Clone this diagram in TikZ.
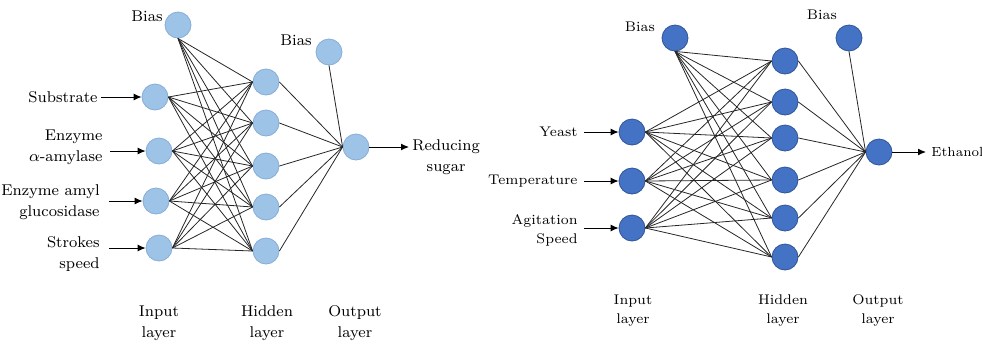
\documentclass[tikz,border=0pt]{standalone}
\usepackage{tikz}
\usetikzlibrary{arrows.meta,positioning}

\definecolor{paleneuron}{HTML}{9DC3E6}
\definecolor{paleedge}{HTML}{86ADD8}
\definecolor{deepneuron}{HTML}{4472C4}
\definecolor{deepedge}{HTML}{2F5597}

\begin{document}
\begin{tikzpicture}[x=0.5pt, y=-0.5pt,
        pale/.style={circle, fill=paleneuron, draw=paleedge, minimum size=13pt, inner sep=0pt},
        deep/.style={circle, fill=deepneuron, draw=deepedge, minimum size=13pt, inner sep=0pt},
        link/.style={black!85, line width=0.4pt},
        feed/.style={-{Latex[length=4pt, width=3.5pt]}, line width=0.5pt},
        lbl/.style={font=\fontsize{7.8}{10.5}\selectfont, inner sep=1.5pt},
        rlbl/.style={font=\fontsize{7}{9.5}\selectfont, inner sep=1.5pt}]
        \useasboundingbox (0, 0) rectangle (982, 344);

        % left network
        \node[pale] (lb) at (178, 25) {};
        \node[pale] (li1) at (155, 97) {};
        \node[pale] (li2) at (159, 151) {};
        \node[pale] (li3) at (156, 201) {};
        \node[pale] (li4) at (159, 248) {};
        \foreach \y [count=\j] in {82, 123, 166, 207, 251}
                \node[pale] (lh\j) at (266, \y) {};
        \node[pale] (lob) at (329, 52) {};
        \node[pale] (lo) at (356, 147) {};

        \foreach \j in {1,...,5} {
                \draw[link] (lb.south) -- (lh\j.west);
                \foreach \i in {1,...,4}
                        \draw[link] (li\i.east) -- (lh\j.west);
                \draw[link] (lh\j.east) -- (lo.west);
        }
        \draw[link] (lob.south) -- (lo.west);

        \node[lbl] (lbt) at (147, 16) {Bias};
        \node[lbl] (lobt) at (296, 40) {Bias};
        \node[lbl, anchor=east] (lt1) at (101, 97) {Substrate};
        \node[lbl, anchor=east, align=right] (lt2) at (106, 147) {Enzyme\\$\alpha$-amylase};
        \node[lbl, anchor=east, align=right] (lt3) at (103, 202) {Enzyme amyl\\glucosidase};
        \node[lbl, anchor=east, align=right] (lt4) at (103, 254) {Strokes\\speed};
        \node[lbl, anchor=west, align=center] (lout) at (409, 157) {Reducing\\sugar};

        \draw[feed] (lt1.east) -- (li1);
        \draw[feed] (li2 -| lt2.east) ++(4, 0) -- (li2);
        \draw[feed] (li3 -| lt3.east) ++(6, 0) -- (li3);
        \draw[feed] (li4 -| lt4.east) ++(6, 0) -- (li4);
        \draw[feed] (lo) -- (lo -| lout.west);

        \node[lbl, align=center] (lin) at (159, 323) {Input\\layer};
        \node[lbl, align=center] (lhid) at (267, 323) {Hidden\\layer};
        \node[lbl, align=center] (lop) at (355, 323) {Output\\layer};

        % right network
        \node[deep] (rb) at (675, 38) {};
        \node[deep] (ri1) at (632, 132) {};
        \node[deep] (ri2) at (632, 181) {};
        \node[deep] (ri3) at (632, 228) {};
        \foreach \y [count=\j] in {61, 102, 138, 180, 218, 257}
                \node[deep] (rh\j) at (785, \y) {};
        \node[deep] (rob) at (849, 38) {};
        \node[deep] (ro) at (879, 152) {};

        \foreach \j in {1,...,6} {
                \draw[link] (rb.south) -- (rh\j.west);
                \foreach \i in {1,...,3}
                        \draw[link] (ri\i.east) -- (rh\j.west);
                \draw[link] (rh\j.east) -- (ro.west);
        }
        \draw[link] (rob.south) -- (ro.west);

        \node[rlbl] (rbt) at (640, 27) {Bias};
        \node[rlbl] (robt) at (822, 15) {Bias};
        \node[rlbl, anchor=east] (rt1) at (581, 132) {Yeast};
        \node[rlbl, anchor=east] (rt2) at (581, 181) {Temperature};
        \node[rlbl, anchor=east, align=right] (rt3) at (581, 230) {Agitation\\Speed};
        \node[rlbl, anchor=west, font=\fontsize{6.6}{8}\selectfont, inner sep=0.5pt] (rout) at (930, 152) {Ethanol};

        \draw[feed] (rt1.east) ++(3, 0) -- (ri1);
        \draw[feed] (rt2.east) ++(3, 0) -- (ri2);
        \draw[feed] (ri3 -| rt3.east) ++(3, 0) -- (ri3);
        \draw[feed] (ro) -- ([xshift=-2pt]rout.west);

        \node[rlbl, align=center] (rin) at (633, 311) {Input\\layer};
        \node[rlbl, align=center] (rhid) at (783, 311) {Hidden\\layer};
        \node[rlbl, align=center] (rop) at (878, 311) {Output\\layer};
\end{tikzpicture}
\end{document}
